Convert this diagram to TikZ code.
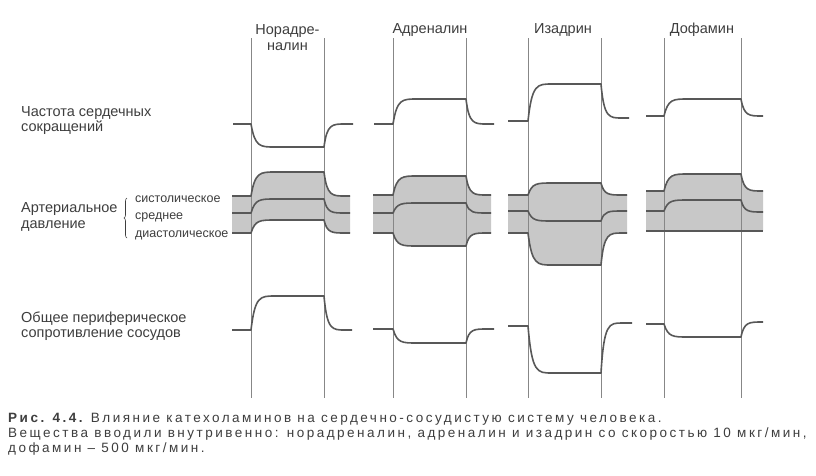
\documentclass[tikz,border=0pt]{standalone}
\usepackage{fontspec}
\setmainfont{Liberation Sans}
\newfontfamily\capfont[LetterSpace=18.5]{Liberation Sans}
\usetikzlibrary{
  calc,
  decorations.pathreplacing,
  positioning,
}
\definecolor{inkgray}{RGB}{88,88,88}
\definecolor{bandgray}{RGB}{200,200,200}
\definecolor{rulegray}{RGB}{135,135,135}
\definecolor{textgray}{RGB}{62,62,62}

\tikzstyle{trace} = [line width=1.6pt, inkgray, line join=round]
\tikzstyle{band} = [fill=bandgray]
\tikzstyle{marker} = [line width=0.7pt, rulegray]
\tikzstyle{rowlabel} = [inner sep=0pt, align=left, anchor=west, text=textgray, font=\fontsize{14.5}{15.5}\selectfont]
\tikzstyle{sublabel} = [inner sep=0pt, anchor=west, text=textgray, font=\fontsize{12.5}{13}\selectfont]
\tikzstyle{drug} = [inner sep=0pt, align=center, text=textgray, font=\fontsize{14.5}{15.5}\selectfont]

% response curve: x0, on, off, x3, y before, y during, y after
\newcommand{\resp}[7]{(#1,#5) -- (#2,#5) .. controls (#2+4,#6) and (#2+9,#6) .. (#2+24,#6) -- (#3,#6) .. controls (#3+3,#7) and (#3+8,#7) .. (#3+21,#7) -- (#4,#7)}
\newcommand{\respback}[7]{-- (#4,#7) -- (#3+21,#7) .. controls (#3+8,#7) and (#3+3,#7) .. (#3,#6) -- (#2+24,#6) .. controls (#2+9,#6) and (#2+4,#6) .. (#2,#5) -- (#1,#5)}

\begin{document}
\begin{tikzpicture}[x=1pt,y=-1pt]
      \useasboundingbox[fill=white] (0,0) rectangle (816,475);

      % pressure bands
      \fill[band] \resp{232}{251}{324}{350}{196}{172}{196} \respback{232}{251}{324}{350}{233}{220}{233} -- cycle;
      \fill[band] \resp{373}{393}{466}{491}{195}{176}{195} \respback{373}{393}{466}{491}{233}{246}{233} -- cycle;
      \fill[band] \resp{508}{528}{601}{627}{195}{183}{195} \respback{508}{528}{601}{627}{233}{265}{233} -- cycle;
      \fill[band] \resp{646}{664}{741}{763}{191}{174}{191} \respback{646}{664}{741}{763}{231}{231}{231} -- cycle;

      \foreach \x in {251,324,393,466,528,601,664,741}
        \draw[marker] (\x,38) -- (\x,398);

      \node[drug] (nora)  at (287.5,37.5) {Норадре-\\налин};
      \node[drug] (adre)  at (430,30) {Адреналин};
      \node[drug] (isad)  at (563,30) {Изадрин};
      \node[drug] (dopa)  at (702,30) {Дофамин};

      \node[rowlabel] (hr)  at (21,120.5) {Частота сердечных\\сокращений};
      \node[rowlabel] (bp)  at (21,217) {Артериальное\\давление};
      \node[rowlabel] (tpr) at (21,326) {Общее периферическое\\сопротивление сосудов};

      \draw[textgray, line width=0.6pt, decorate, decoration={brace, amplitude=3pt}] (127,238) -- (127,198);
      \node[sublabel] (sys)  at (135,199) {систолическое};
      \node[sublabel] (mean) at (135,217) {среднее};
      \node[sublabel] (dia)  at (135,235) {диастолическое};

      % heart rate
      \draw[trace] \resp{233}{251}{324}{353}{124}{147}{124};
      \draw[trace] \resp{374}{393}{466}{494}{124}{99}{124};
      \draw[trace] \resp{508}{528}{601}{629}{121}{84}{118};
      \draw[trace] \resp{646}{664}{741}{763}{116}{99}{116};

      % arterial pressure
      \draw[trace] \resp{232}{251}{324}{350}{196}{172}{196};
      \draw[trace] \resp{232}{251}{324}{350}{213}{199}{213};
      \draw[trace] \resp{232}{251}{324}{350}{233}{220}{233};
      \draw[trace] \resp{373}{393}{466}{491}{195}{176}{195};
      \draw[trace] \resp{373}{393}{466}{491}{213}{203}{213};
      \draw[trace] \resp{373}{393}{466}{491}{233}{246}{233};
      \draw[trace] \resp{508}{528}{601}{627}{195}{183}{195};
      \draw[trace] \resp{508}{528}{601}{627}{211}{221}{211};
      \draw[trace] \resp{508}{528}{601}{627}{233}{265}{233};
      \draw[trace] \resp{646}{664}{741}{763}{191}{174}{191};
      \draw[trace] \resp{646}{664}{741}{763}{211}{200}{212};
      \draw[trace] \resp{646}{664}{741}{763}{231}{231}{231};

      % peripheral resistance
      \draw[trace] \resp{232}{251}{324}{352}{330}{296}{330};
      \draw[trace] \resp{373}{393}{466}{494}{329}{343}{329};
      \draw[trace] \resp{508}{528}{601}{632}{326}{373}{323};
      \draw[trace] \resp{646}{664}{741}{763}{324}{337}{322};

      \node[inner sep=0pt, anchor=north west, align=left, text=textgray, font=\capfont\fontsize{13.5}{15}\selectfont] (caption) at (8,413)
        {{\bfseries Рис. 4.4.} Влияние катехоламинов на сердечно-сосудистую систему человека.\\
         Вещества вводили внутривенно: норадреналин, адреналин и изадрин со скоростью 10 мкг/мин,\\
         дофамин – 500 мкг/мин.};

    \end{tikzpicture}
\end{document}
